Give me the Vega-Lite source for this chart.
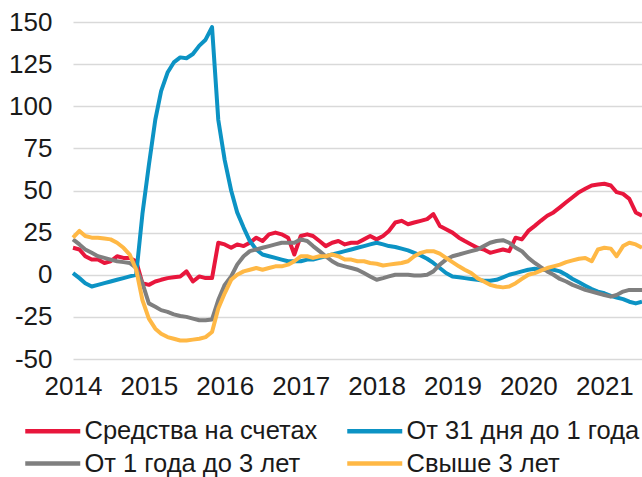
{
  "$schema": "https://vega.github.io/schema/vega-lite/v6.json",
  "autosize": {"type": "none"},
  "padding": {"left": 73, "top": 22, "right": 0, "bottom": 118},
  "width": 569,
  "height": 337,
  "background": "white",
  "config": {
    "font": "Liberation Sans",
    "view": {"stroke": null},
    "axis": {"labelFont": "Liberation Sans", "labelColor": "#1a1a1a", "labelFontSize": 26}
  },
  "datasets": {
    "red": [
      {"d":"2014-01-01","v":16},{"d":"2014-02-01","v":15},{"d":"2014-03-01","v":11},{"d":"2014-04-01","v":9},{"d":"2014-05-01","v":9},{"d":"2014-06-01","v":7},{"d":"2014-07-01","v":8},{"d":"2014-08-01","v":11},{"d":"2014-09-01","v":10},{"d":"2014-10-01","v":10},{"d":"2014-11-01","v":8},{"d":"2014-12-01","v":-5},
      {"d":"2015-01-01","v":-6},{"d":"2015-02-01","v":-4},{"d":"2015-03-01","v":-3},{"d":"2015-04-01","v":-2},{"d":"2015-05-01","v":-1.5},{"d":"2015-06-01","v":-1},{"d":"2015-07-01","v":2},{"d":"2015-08-01","v":-4},{"d":"2015-09-01","v":-1},{"d":"2015-10-01","v":-2},{"d":"2015-11-01","v":-2},{"d":"2015-12-01","v":19},
      {"d":"2016-01-01","v":18},{"d":"2016-02-01","v":16},{"d":"2016-03-01","v":18},{"d":"2016-04-01","v":17},{"d":"2016-05-01","v":19},{"d":"2016-06-01","v":22},{"d":"2016-07-01","v":20},{"d":"2016-08-01","v":24},{"d":"2016-09-01","v":25},{"d":"2016-10-01","v":24},{"d":"2016-11-01","v":22},{"d":"2016-12-01","v":12},
      {"d":"2017-01-01","v":23},{"d":"2017-02-01","v":24},{"d":"2017-03-01","v":23},{"d":"2017-04-01","v":20},{"d":"2017-05-01","v":17},{"d":"2017-06-01","v":19},{"d":"2017-07-01","v":20},{"d":"2017-08-01","v":18},{"d":"2017-09-01","v":19},{"d":"2017-10-01","v":19},{"d":"2017-11-01","v":21},{"d":"2017-12-01","v":23},
      {"d":"2018-01-01","v":21},{"d":"2018-02-01","v":23},{"d":"2018-03-01","v":26},{"d":"2018-04-01","v":31},{"d":"2018-05-01","v":32},{"d":"2018-06-01","v":30},{"d":"2018-07-01","v":31},{"d":"2018-08-01","v":32},{"d":"2018-09-01","v":33},{"d":"2018-10-01","v":36},{"d":"2018-11-01","v":29},{"d":"2018-12-01","v":27},
      {"d":"2019-01-01","v":25},{"d":"2019-02-01","v":22},{"d":"2019-03-01","v":20},{"d":"2019-04-01","v":18},{"d":"2019-05-01","v":16},{"d":"2019-06-01","v":15},{"d":"2019-07-01","v":13},{"d":"2019-08-01","v":14},{"d":"2019-09-01","v":15},{"d":"2019-10-01","v":14},{"d":"2019-11-01","v":22},{"d":"2019-12-01","v":21},
      {"d":"2020-01-01","v":26},{"d":"2020-02-01","v":29},{"d":"2020-03-01","v":32},{"d":"2020-04-01","v":35},{"d":"2020-05-01","v":37},{"d":"2020-06-01","v":40},{"d":"2020-07-01","v":43},{"d":"2020-08-01","v":46},{"d":"2020-09-01","v":49},{"d":"2020-10-01","v":51},{"d":"2020-11-01","v":53},{"d":"2020-12-01","v":53.5},
      {"d":"2021-01-01","v":54},{"d":"2021-02-01","v":53},{"d":"2021-03-01","v":49},{"d":"2021-04-01","v":48},{"d":"2021-05-01","v":45},{"d":"2021-06-01","v":37},{"d":"2021-07-01","v":35}
    ],
    "blue": [
      {"d":"2014-01-01","v":1},{"d":"2014-02-01","v":-2},{"d":"2014-03-01","v":-5},{"d":"2014-04-01","v":-7},{"d":"2014-05-01","v":-6},{"d":"2014-06-01","v":-5},{"d":"2014-07-01","v":-4},{"d":"2014-08-01","v":-3},{"d":"2014-09-01","v":-2},{"d":"2014-10-01","v":-1},{"d":"2014-11-01","v":0},{"d":"2014-12-01","v":36},
      {"d":"2015-01-01","v":65},{"d":"2015-02-01","v":92},{"d":"2015-03-01","v":109},{"d":"2015-04-01","v":120},{"d":"2015-05-01","v":126},{"d":"2015-06-01","v":129},{"d":"2015-07-01","v":128.5},{"d":"2015-08-01","v":131},{"d":"2015-09-01","v":136},{"d":"2015-10-01","v":139.5},{"d":"2015-11-01","v":147},{"d":"2015-12-01","v":92},
      {"d":"2016-01-01","v":68},{"d":"2016-02-01","v":50},{"d":"2016-03-01","v":37},{"d":"2016-04-01","v":28},{"d":"2016-05-01","v":20},{"d":"2016-06-01","v":15},{"d":"2016-07-01","v":12},{"d":"2016-08-01","v":11},{"d":"2016-09-01","v":10},{"d":"2016-10-01","v":9},{"d":"2016-11-01","v":8},{"d":"2016-12-01","v":8},
      {"d":"2017-01-01","v":8},{"d":"2017-02-01","v":9},{"d":"2017-03-01","v":9},{"d":"2017-04-01","v":10},{"d":"2017-05-01","v":11},{"d":"2017-06-01","v":12},{"d":"2017-07-01","v":13},{"d":"2017-08-01","v":14},{"d":"2017-09-01","v":15},{"d":"2017-10-01","v":16},{"d":"2017-11-01","v":17},{"d":"2017-12-01","v":18},
      {"d":"2018-01-01","v":19},{"d":"2018-02-01","v":18},{"d":"2018-03-01","v":17},{"d":"2018-04-01","v":16.5},{"d":"2018-05-01","v":15.5},{"d":"2018-06-01","v":14.5},{"d":"2018-07-01","v":13},{"d":"2018-08-01","v":11.5},{"d":"2018-09-01","v":9.5},{"d":"2018-10-01","v":7},{"d":"2018-11-01","v":4},{"d":"2018-12-01","v":1},
      {"d":"2019-01-01","v":-1},{"d":"2019-02-01","v":-1.5},{"d":"2019-03-01","v":-2},{"d":"2019-04-01","v":-2.5},{"d":"2019-05-01","v":-3},{"d":"2019-06-01","v":-3.5},{"d":"2019-07-01","v":-3.5},{"d":"2019-08-01","v":-3},{"d":"2019-09-01","v":-1.5},{"d":"2019-10-01","v":0},{"d":"2019-11-01","v":1},{"d":"2019-12-01","v":2},
      {"d":"2020-01-01","v":3},{"d":"2020-02-01","v":3.5},{"d":"2020-03-01","v":3},{"d":"2020-04-01","v":3},{"d":"2020-05-01","v":3},{"d":"2020-06-01","v":2},{"d":"2020-07-01","v":0},{"d":"2020-08-01","v":-2.5},{"d":"2020-09-01","v":-4.5},{"d":"2020-10-01","v":-6.5},{"d":"2020-11-01","v":-8.5},{"d":"2020-12-01","v":-10},
      {"d":"2021-01-01","v":-11},{"d":"2021-02-01","v":-12.5},{"d":"2021-03-01","v":-13.5},{"d":"2021-04-01","v":-14.5},{"d":"2021-05-01","v":-16},{"d":"2021-06-01","v":-17},{"d":"2021-07-01","v":-16}
    ],
    "gray": [
      {"d":"2014-01-01","v":21},{"d":"2014-02-01","v":18},{"d":"2014-03-01","v":15},{"d":"2014-04-01","v":13},{"d":"2014-05-01","v":11},{"d":"2014-06-01","v":10},{"d":"2014-07-01","v":9},{"d":"2014-08-01","v":8},{"d":"2014-09-01","v":7.5},{"d":"2014-10-01","v":7},{"d":"2014-11-01","v":4},{"d":"2014-12-01","v":-5},
      {"d":"2015-01-01","v":-17},{"d":"2015-02-01","v":-19},{"d":"2015-03-01","v":-21},{"d":"2015-04-01","v":-22},{"d":"2015-05-01","v":-23.5},{"d":"2015-06-01","v":-24.5},{"d":"2015-07-01","v":-25},{"d":"2015-08-01","v":-26},{"d":"2015-09-01","v":-27},{"d":"2015-10-01","v":-27},{"d":"2015-11-01","v":-26.5},{"d":"2015-12-01","v":-15},
      {"d":"2016-01-01","v":-6},{"d":"2016-02-01","v":-1},{"d":"2016-03-01","v":6},{"d":"2016-04-01","v":11},{"d":"2016-05-01","v":14},{"d":"2016-06-01","v":15},{"d":"2016-07-01","v":16},{"d":"2016-08-01","v":17},{"d":"2016-09-01","v":18},{"d":"2016-10-01","v":19},{"d":"2016-11-01","v":19},{"d":"2016-12-01","v":19},
      {"d":"2017-01-01","v":21},{"d":"2017-02-01","v":20},{"d":"2017-03-01","v":17},{"d":"2017-04-01","v":14},{"d":"2017-05-01","v":11},{"d":"2017-06-01","v":8},{"d":"2017-07-01","v":6},{"d":"2017-08-01","v":5},{"d":"2017-09-01","v":4},{"d":"2017-10-01","v":3},{"d":"2017-11-01","v":1},{"d":"2017-12-01","v":-1},
      {"d":"2018-01-01","v":-3},{"d":"2018-02-01","v":-2},{"d":"2018-03-01","v":-1},{"d":"2018-04-01","v":0},{"d":"2018-05-01","v":0},{"d":"2018-06-01","v":0},{"d":"2018-07-01","v":-0.5},{"d":"2018-08-01","v":-0.5},{"d":"2018-09-01","v":0},{"d":"2018-10-01","v":2},{"d":"2018-11-01","v":6},{"d":"2018-12-01","v":9},
      {"d":"2019-01-01","v":11},{"d":"2019-02-01","v":12},{"d":"2019-03-01","v":13},{"d":"2019-04-01","v":14},{"d":"2019-05-01","v":15},{"d":"2019-06-01","v":17},{"d":"2019-07-01","v":19},{"d":"2019-08-01","v":20},{"d":"2019-09-01","v":20.5},{"d":"2019-10-01","v":19},{"d":"2019-11-01","v":16},{"d":"2019-12-01","v":14},
      {"d":"2020-01-01","v":10},{"d":"2020-02-01","v":7},{"d":"2020-03-01","v":4.5},{"d":"2020-04-01","v":2},{"d":"2020-05-01","v":0},{"d":"2020-06-01","v":-2.5},{"d":"2020-07-01","v":-4},{"d":"2020-08-01","v":-6},{"d":"2020-09-01","v":-7.5},{"d":"2020-10-01","v":-9},{"d":"2020-11-01","v":-10},{"d":"2020-12-01","v":-11},
      {"d":"2021-01-01","v":-12},{"d":"2021-02-01","v":-13},{"d":"2021-03-01","v":-12},{"d":"2021-04-01","v":-10},{"d":"2021-05-01","v":-9},{"d":"2021-06-01","v":-9},{"d":"2021-07-01","v":-9}
    ],
    "yellow": [
      {"d":"2014-01-01","v":22},{"d":"2014-02-01","v":26},{"d":"2014-03-01","v":23},{"d":"2014-04-01","v":22},{"d":"2014-05-01","v":22},{"d":"2014-06-01","v":21.5},{"d":"2014-07-01","v":21},{"d":"2014-08-01","v":19},{"d":"2014-09-01","v":16},{"d":"2014-10-01","v":12},{"d":"2014-11-01","v":3},{"d":"2014-12-01","v":-15},
      {"d":"2015-01-01","v":-26},{"d":"2015-02-01","v":-32},{"d":"2015-03-01","v":-35},{"d":"2015-04-01","v":-37},{"d":"2015-05-01","v":-38},{"d":"2015-06-01","v":-39},{"d":"2015-07-01","v":-39},{"d":"2015-08-01","v":-38.5},{"d":"2015-09-01","v":-38},{"d":"2015-10-01","v":-37},{"d":"2015-11-01","v":-34},{"d":"2015-12-01","v":-20},
      {"d":"2016-01-01","v":-11},{"d":"2016-02-01","v":-3},{"d":"2016-03-01","v":0},{"d":"2016-04-01","v":2},{"d":"2016-05-01","v":3},{"d":"2016-06-01","v":4},{"d":"2016-07-01","v":3},{"d":"2016-08-01","v":4},{"d":"2016-09-01","v":5},{"d":"2016-10-01","v":5},{"d":"2016-11-01","v":6},{"d":"2016-12-01","v":8},
      {"d":"2017-01-01","v":11},{"d":"2017-02-01","v":11},{"d":"2017-03-01","v":10},{"d":"2017-04-01","v":11},{"d":"2017-05-01","v":11},{"d":"2017-06-01","v":12},{"d":"2017-07-01","v":11},{"d":"2017-08-01","v":9},{"d":"2017-09-01","v":9},{"d":"2017-10-01","v":8},{"d":"2017-11-01","v":8},{"d":"2017-12-01","v":7},
      {"d":"2018-01-01","v":6.5},{"d":"2018-02-01","v":5.5},{"d":"2018-03-01","v":6},{"d":"2018-04-01","v":6.5},{"d":"2018-05-01","v":7},{"d":"2018-06-01","v":8},{"d":"2018-07-01","v":11},{"d":"2018-08-01","v":13},{"d":"2018-09-01","v":14},{"d":"2018-10-01","v":14},{"d":"2018-11-01","v":12.5},{"d":"2018-12-01","v":10},
      {"d":"2019-01-01","v":7.5},{"d":"2019-02-01","v":5},{"d":"2019-03-01","v":3},{"d":"2019-04-01","v":1},{"d":"2019-05-01","v":-2},{"d":"2019-06-01","v":-4},{"d":"2019-07-01","v":-6},{"d":"2019-08-01","v":-7},{"d":"2019-09-01","v":-7.5},{"d":"2019-10-01","v":-7},{"d":"2019-11-01","v":-5},{"d":"2019-12-01","v":-2.5},
      {"d":"2020-01-01","v":0},{"d":"2020-02-01","v":1},{"d":"2020-03-01","v":2.5},{"d":"2020-04-01","v":4},{"d":"2020-05-01","v":5},{"d":"2020-06-01","v":6},{"d":"2020-07-01","v":7.5},{"d":"2020-08-01","v":8.5},{"d":"2020-09-01","v":9.5},{"d":"2020-10-01","v":10},{"d":"2020-11-01","v":8},{"d":"2020-12-01","v":15},
      {"d":"2021-01-01","v":16},{"d":"2021-02-01","v":15.5},{"d":"2021-03-01","v":11},{"d":"2021-04-01","v":17},{"d":"2021-05-01","v":19},{"d":"2021-06-01","v":18},{"d":"2021-07-01","v":16}
    ],
    "years": [
      {"d":"2014-01-01"},{"d":"2015-01-01"},{"d":"2016-01-01"},{"d":"2017-01-01"},{"d":"2018-01-01"},{"d":"2019-01-01"},{"d":"2020-01-01"},{"d":"2021-01-01"}
    ]
  },
  "encoding": {
    "x": {
      "field": "d", "type": "temporal",
      "scale": {"type": "utc", "domain": ["2014-01-01", "2021-07-01"]},
      "axis": {"title": null, "format": "%Y", "tickCount": {"interval": "year", "step": 1}, "ticks": false, "domain": false, "grid": false, "labelPadding": 14, "labelFlush": false, "labelOverlap": false}
    },
    "y": {
      "field": "v", "type": "quantitative",
      "scale": {"domain": [-50, 150], "nice": false, "zero": false},
      "axis": {"title": null, "values": [-50, -25, 0, 25, 50, 75, 100, 125, 150], "labelExpr": "datum.value < 0 ? '-' + abs(datum.value) : '' + datum.value", "ticks": false, "domain": false, "grid": true, "gridColor": "#d9d9d9", "gridWidth": 1.5, "labelPadding": 21}
    }
  },
  "layer": [
    {
      "data": {"name": "years"},
      "mark": {"type": "rule", "color": "#bfbfbf", "strokeWidth": 1},
      "encoding": {"y": {"datum": 0}, "y2": {"datum": -3}}
    },
    {
      "data": {"name": "red"},
      "mark": {"type": "line", "strokeWidth": 4, "strokeJoin": "round"},
      "encoding": {"color": {"datum": "Средства на счетах"}}
    },
    {
      "data": {"name": "blue"},
      "mark": {"type": "line", "strokeWidth": 4, "strokeJoin": "round"},
      "encoding": {"color": {"datum": "От 31 дня до 1 года"}}
    },
    {
      "data": {"name": "gray"},
      "mark": {"type": "line", "strokeWidth": 4, "strokeJoin": "round"},
      "encoding": {"color": {"datum": "От 1 года до 3 лет"}}
    },
    {
      "data": {"name": "yellow"},
      "mark": {"type": "line", "strokeWidth": 4, "strokeJoin": "round"},
      "encoding": {
        "color": {
          "datum": "Свыше 3 лет",
          "scale": {
            "domain": ["Средства на счетах", "От 31 дня до 1 года", "От 1 года до 3 лет", "Свыше 3 лет"],
            "range": ["#E8163C", "#0C93C4", "#7F7F7F", "#FFB845"]
          },
          "legend": {
            "title": null,
            "orient": "none",
            "legendX": -22.5,
            "legendY": 393,
            "direction": "horizontal",
            "columns": 2,
            "symbolType": "M-3,0H1",
            "symbolStrokeWidth": 4.5,
            "symbolSize": 756,
            "labelFontSize": 25.5,
            "labelFont": "Liberation Sans",
            "labelColor": "#1a1a1a",
            "labelOffset": 2,
            "columnPadding": 20,
            "rowPadding": 2.5,
            "labelLimit": 400
          }
        }
      }
    }
  ]
}
